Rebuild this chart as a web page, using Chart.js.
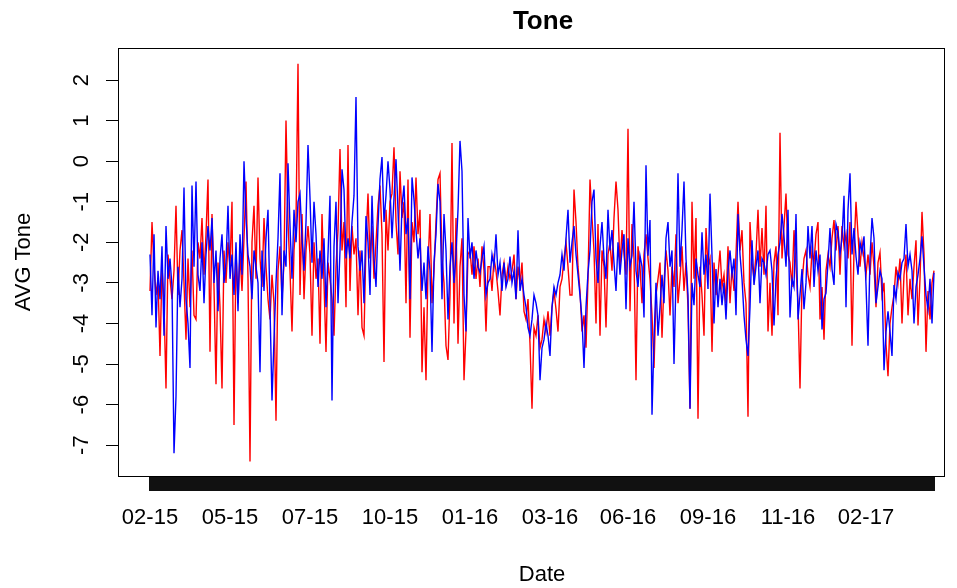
<!DOCTYPE html>
<html>
<head>
<meta charset="utf-8">
<title>Tone</title>
<script src="https://cdn.jsdelivr.net/npm/chart.js@4/dist/chart.umd.min.js"></script>
<style>
    html, body { margin: 0; padding: 0; background: #fff; }
</style>
</head>
<body>
<canvas id="toneChart" width="957" height="588"></canvas>
<script>
// etiquetas del eje X (mes-año) y la posición (índice de observación) donde caen
const tickLabels = ['02-15', '05-15', '07-15', '10-15', '01-16', '03-16', '06-16', '09-16', '11-16', '02-17'];
const tickIndex = [0, 40, 80, 120, 160, 200, 239, 279, 319, 358];
const yTicks = [-7, -6, -5, -4, -3, -2, -1, 0, 1, 2];

// tono medio, serie roja
const toneRed = [
    -3.2, -1.5, -2.6, -3.3, -2.9, -4.8, -2.6, -3.5, -5.6, -2.3,
    -2.9, -3.4, -2.7, -1.1, -3.3, -2.2, -1.7, -3.0, -4.4, -2.4,
    -3.6, -2.2, -3.8, -3.9, -2.0, -2.4, -1.4, -2.8, -1.8, -0.45,
    -4.7, -1.3, -3.1, -5.5, -2.5, -3.6, -5.6, -2.2, -3.0, -2.0,
    -2.6, -1.0, -6.5, -2.2, -3.5, -2.3, -3.2, -1.9, -0.5, -2.9,
    -7.4, -2.0, -1.1, -2.9, -0.4, -2.4, -3.1, -1.4, -2.6, -3.4,
    -3.9, -2.8, -3.5, -6.4, -2.7, -2.1, -3.4, -2.5, 1.0, -1.5,
    -2.7, -4.2, -2.2, -1.5, 2.4, -3.3, -1.3, -3.4, -2.2, -1.6,
    -2.3, -4.3, -2.0, -2.9, -2.4, -4.5, -1.3, -3.0, -4.7, -2.5,
    -2.9, -3.4, -4.3, -2.6, -1.7, 0.3, -2.2, -1.5, -3.6, 0.4,
    -3.2, -1.6, -2.3, -1.9, -3.8, -2.2, -4.1, -4.3, -2.0, -0.8,
    -2.4, -1.6, -2.9, -2.0, -1.1, -0.6, -1.8, -4.95, -1.2, -2.2,
    -1.0, -0.8, 0.34, -1.5, -2.3, -0.25, -1.4, -1.0, -3.5, -0.45,
    -4.35, -1.5, -2.0, -0.4, -1.8, -1.2, -5.2, -3.6, -5.4, -2.6,
    -1.3, -3.5, -2.7, -1.5, -0.45, -0.3, -2.4, -3.0, -4.55, -4.9,
    -3.3, 0.45, -4.0, -1.4, -4.5, -2.6, -1.9, -5.4, -4.2, -2.3,
    -2.2, -2.8, -2.1, -2.9, -2.4, -3.1, -2.1, -2.7, -4.2, -2.6,
    -2.6, -3.2, -2.4, -2.7, -3.2, -3.8, -2.8, -2.5, -3.0, -2.6,
    -2.9, -2.7, -2.3, -3.4, -2.6, -3.0, -2.5, -3.7, -3.9, -3.4,
    -4.5, -6.1, -4.1, -4.3, -3.8, -4.6, -4.4, -3.9, -4.2, -3.7,
    -4.3, -3.6, -3.2, -3.65, -4.2, -3.1, -2.9, -2.4, -2.0, -2.6,
    -3.3, -3.3, -0.7, -1.5, -2.6, -3.2, -4.2, -3.8, -4.6, -2.9,
    -0.45, -1.4, -2.2, -4.0, -1.55, -4.3, -2.2, -2.6, -4.1, -2.3,
    -2.0, -2.7, -1.4, -0.5, -1.2, -2.6, -1.7, -2.3, -2.8, 0.8,
    -3.7, -1.55, -2.4, -5.4, -2.1, -2.6, -3.5, -2.3, -1.8, -2.4,
    -2.9, -3.8, -5.1, -3.3, -2.9, -2.5, -4.35, -3.0, -2.2, -2.7,
    -3.8, -2.6, -3.1, -1.8, -3.5, -2.9, -2.1, -3.2, -2.5, -3.6,
    -6.1, -1.0, -2.9, -1.4, -6.35, -2.6, -3.3, -4.3, -1.65, -2.6,
    -2.4, -4.7, -2.5, -3.3, -2.8, -2.2, -3.1, -2.8, -3.5, -2.1,
    -3.5, -2.6, -3.2, -2.3, -1.0, -2.2, -1.7, -3.0, -3.5, -6.3,
    -1.5, -2.5, -2.9, -2.3, -1.2, -2.6, -1.65, -2.8, -1.1, -4.2,
    -3.0, -4.3, -2.5, -2.1, -3.8, 0.7, -2.4, -1.6, -0.8, -2.3,
    -2.5, -3.1, -1.7, -2.6, -3.5, -5.6, -3.0, -2.4, -2.2, -2.8,
    -3.1, -2.2, -2.5, -1.8, -1.5, -3.9, -3.1, -4.4, -2.7, -2.3,
    -2.6, -1.9, -1.45, -2.2, -1.6, -2.8, -1.6, -2.1, -1.8, -2.4,
    -1.5, -4.55, -2.2, -1.0, -1.8, -2.6, -2.0, -2.4, -2.8, -2.3,
    -2.8, -2.0, -2.6, -3.6, -2.5, -2.25, -3.3, -3.0, -4.5, -5.3,
    -4.0, -3.6, -3.3, -2.6, -3.0, -2.4, -4.0, -2.8, -2.3, -3.8,
    -2.9, -3.4, -2.6, -1.95, -4.05, -2.9, -1.25, -2.3, -4.7, -3.2,
    -3.9, -3.0, -2.7
];

// tono medio, serie azul
const toneBlue = [
    -2.3, -3.8, -1.8, -4.1, -2.7, -3.4, -2.1, -4.3, -1.6, -2.9,
    -2.4, -3.1, -7.2, -5.8, -2.6, -3.6, -2.9, -0.65, -3.4, -4.0,
    -5.1, -0.6, -2.6, -0.5, -2.8, -3.2, -2.0, -3.5, -2.3, -1.6,
    -2.2, -1.4, -3.0, -2.2, -3.7, -2.4, -1.8, -3.0, -2.5, -1.1,
    -2.9, -2.3, -3.3, -2.0, -3.7, -1.8, -2.8, 0.0, -1.4, -2.3,
    -2.6, -3.4, -2.2, -2.6, -3.0, -5.2, -2.2, -3.2, -1.9, -1.2,
    -3.6, -5.9, -4.4, -3.0, -1.9, -0.3, -3.8, -2.2, -2.6, -0.05,
    -1.6, -2.9, -1.2, -2.0, -1.0, -0.8, -1.9, -2.7, -1.5, 0.4,
    -0.9, -2.5, -1.0, -1.8, -3.1, -2.2, -2.9, -1.9, -3.6, -2.3,
    -0.85, -5.9, -2.1, -1.0, -3.5, -2.2, -0.2, -0.7, -2.4, -1.9,
    -2.4, -1.5, -0.85, 1.58, -2.1, -2.7, -2.2, -3.5, -1.35, -2.0,
    -3.3, -0.85, -2.4, -3.1, -1.6, -0.44, 0.1, -1.5, -0.85, 0.0,
    -0.7, -1.9, -0.9, 0.05, -1.2, -2.7, -1.1, -0.6, -1.8, -1.4,
    -3.4, -0.4, -0.95, -1.7, -2.4, -1.9, -3.2, -2.5, -3.4, -2.1,
    -2.7, -4.7, -2.5, -1.8, -0.56, -1.0, -3.4, -1.3, -2.2, -3.9,
    -2.6, -2.0, -3.0, -2.3, -1.2, 0.5, -0.25, -3.3, -4.2, -1.4,
    -2.4, -2.0, -2.9, -2.2, -2.6, -2.75, -2.4, -2.1, -3.3, -3.0,
    -2.9, -2.3, -2.6, -1.8, -2.8, -2.5, -3.2, -2.5, -3.1, -2.9,
    -2.35, -3.0, -2.7, -3.4, -1.7, -3.2, -2.9, -3.3, -3.6, -4.1,
    -4.3, -3.9, -3.3, -3.5, -3.8, -5.4, -4.6, -4.4, -4.0, -4.3,
    -4.8, -3.6, -3.1, -3.3, -3.0, -2.8, -2.3, -2.7, -1.9, -1.2,
    -2.5, -2.0, -1.6, -2.3, -2.8, -3.3, -3.9, -5.1, -3.6, -2.75,
    -2.2, -1.0, -0.7, -2.4, -3.0, -2.1, -1.5, -2.4, -2.9, -1.2,
    -2.2, -1.7, -2.5, -3.2, -2.0, -2.8, -2.2, -1.8, -3.65, -1.9,
    -2.6, -2.33, -1.0, -2.7, -3.1, -2.33, -2.6, -3.85, -0.1, -2.33,
    -1.45, -6.25, -4.4, -3.0, -4.3, -3.6, -2.8, -3.5, -1.9, -1.5,
    -2.6, -2.2, -5.0, -2.9, -0.3, -2.6, -1.7, -0.5, -2.4, -3.3,
    -6.1, -3.0, -3.55, -2.4, -2.8, -3.1, -1.75, -2.8, -2.3, -3.15,
    -0.8, -2.33, -4.0, -2.66, -3.6, -2.9, -3.55, -3.0, -3.9, -2.7,
    -2.2, -2.8, -2.4, -3.8, -1.3, -2.3, -2.9, -3.8, -4.4, -4.8,
    -3.6, -1.95, -3.05, -2.6, -2.2, -3.5, -2.4, -2.5, -2.8, -2.3,
    -2.2, -2.7, -4.05, -2.9, -2.3, -2.0, -1.3, -1.85, -2.6, -1.2,
    -3.85, -2.9, -3.1, -1.3, -3.9, -3.3, -2.66, -3.65, -3.0, -1.6,
    -2.4, -1.6, -3.1, -2.2, -2.7, -2.3, -4.15, -3.4, -3.25, -2.5,
    -1.65, -2.66, -3.05, -1.55, -1.75, -2.3, -1.9, -0.85, -3.6, -1.2,
    -0.3, -2.3, -1.65, -2.35, -2.8, -2.0, -2.25, -1.85, -3.05, -4.55,
    -2.4, -1.4, -1.9, -3.5, -3.1, -2.7, -2.9, -5.15, -4.2, -3.7,
    -4.2, -4.8, -3.05, -3.4, -2.75, -2.9, -2.5, -2.4, -1.55, -2.6,
    -2.3, -2.7, -4.0, -3.1, -2.8, -2.4, -1.85, -2.6, -3.3, -3.65,
    -2.9, -4.0, -2.75
];

const FUENTE = '"Liberation Sans", Arial, Helvetica, sans-serif';

// caja, etiquetas del eje Y giradas y títulos al estilo de R base
const estiloR = {
    id: 'estiloR',
    afterDraw(chart) {
        const { ctx, chartArea: a, scales } = chart;
        ctx.save();
        ctx.strokeStyle = '#000';
        ctx.lineWidth = 1;
        ctx.strokeRect(a.left + 0.5, a.top + 0.5, a.right - a.left - 1, a.bottom - a.top);

        ctx.fillStyle = '#000';
        ctx.font = '22px ' + FUENTE;
        ctx.textAlign = 'center';
        ctx.textBaseline = 'alphabetic';
        yTicks.forEach(v => {
            const y = scales.y.getPixelForValue(v);
            ctx.save();
            ctx.translate(88, y);
            ctx.rotate(-Math.PI / 2);
            ctx.fillText(String(v), 0, 0);
            ctx.restore();
        });

        ctx.save();
        ctx.translate(30, (a.top + a.bottom) / 2);
        ctx.rotate(-Math.PI / 2);
        ctx.fillText('AVG Tone', 0, 0);
        ctx.restore();

        ctx.fillText('Date', 542, 581);

        ctx.font = 'bold 26px ' + FUENTE;
        ctx.fillText('Tone', 543, 29);
        ctx.restore();
    }
};

const puntos = serie => serie.map((v, i) => ({ x: i, y: v }));

// Chart.js pinta el primer dataset encima: el azul va primero para quedar sobre el rojo
new Chart(document.getElementById('toneChart'), {
    type: 'line',
    data: {
        datasets: [
            { data: puntos(toneBlue), borderColor: '#0000ff', borderWidth: 1.4 },
            { data: puntos(toneRed), borderColor: '#ff0000', borderWidth: 1.4 }
        ]
    },
    options: {
        responsive: false,
        animation: false,
        elements: { point: { radius: 0 }, line: { tension: 0 } },
        layout: { padding: { top: 48, right: 12, left: 0, bottom: 0 } },
        plugins: { legend: { display: false }, tooltip: { enabled: false } },
        scales: {
            x: {
                type: 'linear',
                min: -16,
                max: 397.5,
                afterBuildTicks: s => { s.ticks = toneRed.map((_, i) => ({ value: i })); },
                afterFit: s => { s.height = 112; },
                border: { display: false },
                grid: { drawOnChartArea: false, drawTicks: true, tickLength: 15, color: '#111', lineWidth: 2 },
                ticks: {
                    autoSkip: false,
                    minRotation: 0,
                    maxRotation: 0,
                    padding: 14,
                    color: '#000',
                    font: { size: 22, family: FUENTE },
                    callback: v => {
                        const k = tickIndex.indexOf(v);
                        return k >= 0 ? tickLabels[k] : '';
                    }
                }
            },
            y: {
                min: -7.76,
                max: 2.79,
                afterBuildTicks: s => { s.ticks = yTicks.map(v => ({ value: v })); },
                afterFit: s => { s.width = 118; },
                border: { display: false },
                grid: { drawOnChartArea: false, drawTicks: true, tickLength: 12, color: '#000' },
                ticks: { display: false }
            }
        }
    },
    plugins: [estiloR]
});
</script>
</body>
</html>
